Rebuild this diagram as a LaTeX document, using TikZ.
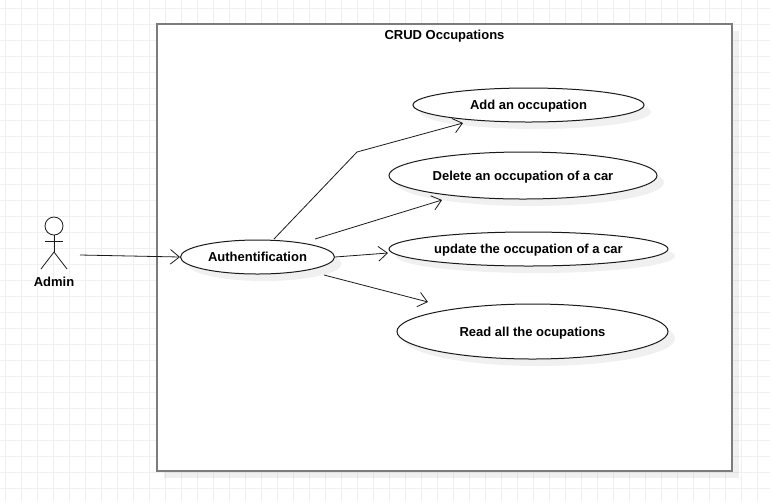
\documentclass[tikz,border=0pt]{standalone}
\usepackage{fontspec}
\setmainfont{Liberation Sans}
\usetikzlibrary{arrows.meta,shapes.geometric,shadows}
\definecolor{gridgray}{HTML}{F0F0F0}
\definecolor{boxgray}{HTML}{7C7C7C}
\definecolor{inkgray}{HTML}{1A1A1A}
\tikzset{
    softshadow/.style={drop shadow={shadow xshift=5.25pt,shadow yshift=-5.25pt,fill=black,opacity=.06}},
    usecase/.style={ellipse,draw=inkgray,fill=white,line width=.75pt,inner sep=0pt,softshadow,text height=7.2pt,text depth=0pt,font=\fontsize{9.75}{12}\selectfont\bfseries},
    sysbox/.style={rectangle,draw=boxgray,fill=white,line width=1.5pt,inner sep=0pt,softshadow},
    plainlabel/.style={font=\fontsize{9.75}{12}\selectfont\bfseries,inner sep=0pt},
    link/.style={draw=inkgray,line width=.6pt,-{Straight Barb[length=6.75pt,width=11pt,line width=.6pt]}},
    stick/.style={draw=inkgray,line width=.6pt},
}
\begin{document}
\begin{tikzpicture}[x=0.75pt,y=-0.75pt]
    \useasboundingbox (0,0) rectangle (770,501);
    \fill[white] (0,0) rectangle (770,501);

    % Background grid
    \foreach \x in {5,21,...,770} {
        \draw[gridgray,line width=.75pt] (\x,0) -- (\x,501);
    }
    \foreach \y in {8,24,...,501} {
        \draw[gridgray,line width=.75pt] (0,\y) -- (770,\y);
    }

    % System boundary
    \node[sysbox,minimum width=431.25pt,minimum height=335.25pt] (crud) at (444.5,247.5) {};
    \node[plainlabel] (crudtitle) at (444.5,36.5) {CRUD Occupations};

    % Actor
    \node[circle,stick,fill=white,minimum size=13.5pt,inner sep=0pt] (head) at (54,226) {};
    \coordinate (hip) at (54,252);
    \coordinate (armleft) at (45,241);
    \coordinate (armright) at (63,241);
    \coordinate (footleft) at (41,269);
    \coordinate (footright) at (67,269);
    \draw[stick] (head.south) -- (hip);
    \draw[stick] (armleft) -- (armright);
    \draw[stick] (footleft) -- (hip) -- (footright);
    \node[plainlabel] (admin) at (54,282) {Admin};

    % Use cases
    \node[usecase,minimum width=115.5pt,minimum height=25.5pt] (auth) at (257.5,257) {Authentification};
    \node[usecase,minimum width=173.25pt,minimum height=25.5pt] (add) at (528.5,105) {Add an occupation};
    \node[usecase,minimum width=201pt,minimum height=35.25pt] (delete) at (523,175.5) {Delete an occupation of a car};
    \node[usecase,minimum width=209.25pt,minimum height=25.5pt] (update) at (528.5,249) {update the occupation of a car};
    \node[usecase,minimum width=203.25pt,minimum height=41.25pt] (read) at (532.5,331.5) {Read all the ocupations};

    % Free ends of the connectors
    \coordinate (adminout) at (80,255);
    \coordinate (authtop) at (274,239);
    \coordinate (bend) at (357,152);
    \coordinate (addin) at (463,123);
    \coordinate (authdelete) at (315,239);
    \coordinate (deletein) at (442,200);
    \coordinate (updatein) at (388,253);
    \coordinate (authread) at (324,275);
    \coordinate (readin) at (428,302);

    % Connectors
    \draw[link] (adminout) -- (auth.west);
    \draw[link] (authtop) -- (bend) -- (addin);
    \draw[link] (authdelete) -- (deletein);
    \draw[link] (auth.east) -- (updatein);
    \draw[link] (authread) -- (readin);
\end{tikzpicture}
\end{document}
